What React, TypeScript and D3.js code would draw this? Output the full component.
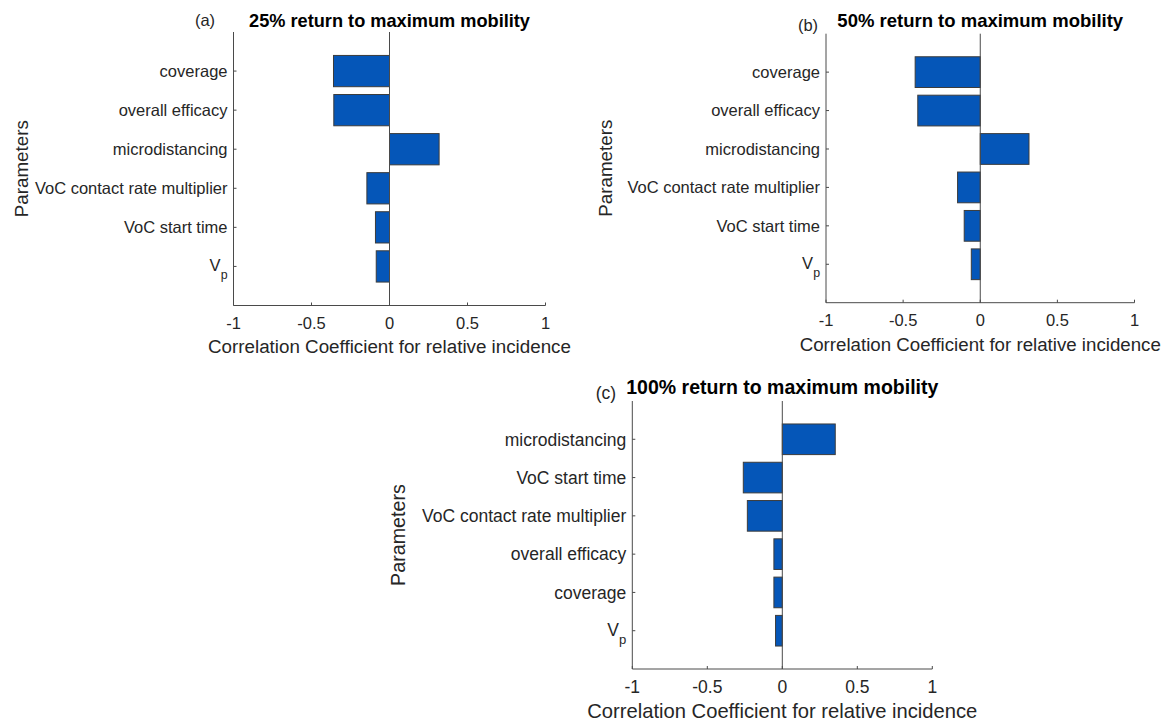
import React from "react";
import * as d3 from "d3";

// ---- data (bottom to top order, as drawn by MATLAB barh) ----
const categoriesA = ["V_p", "VoC start time", "VoC contact rate multiplier", "microdistancing", "overall efficacy", "coverage"];
const valuesA = [-0.085, -0.09, -0.145, 0.318, -0.357, -0.359];

const categoriesB = ["V_p", "VoC start time", "VoC contact rate multiplier", "microdistancing", "overall efficacy", "coverage"];
const valuesB = [-0.058, -0.104, -0.147, 0.316, -0.405, -0.422];

const categoriesC = ["V_p", "coverage", "overall efficacy", "VoC contact rate multiplier", "VoC start time", "microdistancing"];
const valuesC = [-0.045, -0.056, -0.056, -0.233, -0.26, 0.353];

const titles = ["25% return to maximum mobility", "50% return to maximum mobility", "100% return to maximum mobility"];
const tags = ["(a)", "(b)", "(c)"];
const xTicks = [-1, -0.5, 0, 0.5, 1];
const xLabel = "Correlation Coefficient for relative incidence";
const yLabel = "Parameters";

const FONT = "'Liberation Sans', Arial, Helvetica, sans-serif";
const BAR = "#0556b8";
const EDGE = "#3c3c3c";
const AXIS = "#4a4a4a";
const TXT = "#262626";

type Layout = {
  left: number; right: number; top: number; bottom: number;
  tick: number; lab: number; ylab: number; title: number;
  tagX: number; tagY: number; titleY: number; ylabX: number; xlabY: number; tickY: number;
};

const layouts: Layout[] = [
  { left: 233.5, right: 545.5, top: 32, bottom: 305.5, tick: 16.5, lab: 18.8, ylab: 18.8, title: 18.2,
    tagX: 205, tagY: 26, titleY: 27, ylabX: 27.5, xlabY: 353, tickY: 328.5 },
  { left: 826, right: 1134.5, top: 33.7, bottom: 302.7, tick: 16.5, lab: 18.7, ylab: 18.8, title: 18.5,
    tagX: 808, tagY: 31, titleY: 27, ylabX: 612, xlabY: 351, tickY: 325.5 },
  { left: 632.3, right: 932.3, top: 401, bottom: 669, tick: 17.5, lab: 20.2, ylab: 19.7, title: 19.5,
    tagX: 606, tagY: 399, titleY: 394, ylabX: 405, xlabY: 717.5, tickY: 693 },
];

function CatLabel({ name, x, y, size }: { name: string; x: number; y: number; size: number }) {
  if (name === "V_p") {
    return (
      <text x={x} y={y + size * 0.3} textAnchor="end" fontSize={size} fill={TXT} fontFamily={FONT}>
        V<tspan fontSize={size * 0.75} dy={size * 0.45}>p</tspan>
      </text>
    );
  }
  return (
    <text x={x} y={y + size * 0.36} textAnchor="end" fontSize={size} fill={TXT} fontFamily={FONT}>
      {name}
    </text>
  );
}

function Panel({ cats, vals, L, title, tag }: { cats: string[]; vals: number[]; L: Layout; title: string; tag: string }) {
  const x = d3.scaleLinear().domain([-1, 1]).range([L.left, L.right]);
  const y = d3.scaleLinear().domain([0, cats.length + 1]).range([L.bottom, L.top]);
  const bw = 0.8;
  const cx = (L.left + L.right) / 2;
  const cy = (L.top + L.bottom) / 2;
  return (
    <g>
      {vals.map((v, i) => {
        const x0 = x(Math.min(0, v));
        const x1 = x(Math.max(0, v));
        const yT = y(i + 1 + bw / 2);
        const yB = y(i + 1 - bw / 2);
        return <rect key={i} x={x0} y={yT} width={x1 - x0} height={yB - yT} fill={BAR} stroke={EDGE} strokeWidth={1} />;
      })}
      {/* baseline at zero */}
      <line x1={x(0)} x2={x(0)} y1={L.top} y2={L.bottom} stroke={AXIS} strokeWidth={1} />
      {/* axes */}
      <line x1={L.left} x2={L.left} y1={L.top} y2={L.bottom} stroke={AXIS} strokeWidth={1} />
      <line x1={L.left} x2={L.right} y1={L.bottom} y2={L.bottom} stroke={AXIS} strokeWidth={1} />
      {xTicks.map((t) => (
        <g key={t}>
          <line x1={x(t)} x2={x(t)} y1={L.bottom} y2={L.bottom - 3} stroke={AXIS} strokeWidth={1} />
          <text x={x(t)} y={L.tickY} textAnchor="middle" fontSize={L.tick} fill={TXT} fontFamily={FONT}>
            {String(t)}
          </text>
        </g>
      ))}
      {cats.map((c, i) => (
        <g key={c}>
          <line x1={L.left} x2={L.left + 3} y1={y(i + 1)} y2={y(i + 1)} stroke={AXIS} strokeWidth={1} />
          <CatLabel name={c} x={L.left - 6} y={y(i + 1)} size={L.tick} />
        </g>
      ))}
      <text x={cx} y={L.xlabY} textAnchor="middle" fontSize={L.lab} fill={TXT} fontFamily={FONT}>
        {xLabel}
      </text>
      <text transform={`translate(${L.ylabX},${cy}) rotate(-90)`} textAnchor="middle" fontSize={L.ylab} fill={TXT} fontFamily={FONT}>
        {yLabel}
      </text>
      <text x={cx} y={L.titleY} textAnchor="middle" fontSize={L.title} fontWeight="bold" fill="#000" fontFamily={FONT}>
        {title}
      </text>
      <text x={L.tagX} y={L.tagY} textAnchor="middle" fontSize={L.tick} fill={TXT} fontFamily={FONT}>
        {tag}
      </text>
    </g>
  );
}

export default function App() {
  const data = [
    [categoriesA, valuesA],
    [categoriesB, valuesB],
    [categoriesC, valuesC],
  ] as [string[], number[]][];
  return (
    <svg width={1165} height={722} style={{ position: "absolute", left: 0, top: 0, background: "#fff" }}>
      <rect width={1165} height={722} fill="#fff" />
      {data.map(([c, v], i) => (
        <Panel key={i} cats={c} vals={v} L={layouts[i]} title={titles[i]} tag={tags[i]} />
      ))}
    </svg>
  );
}
